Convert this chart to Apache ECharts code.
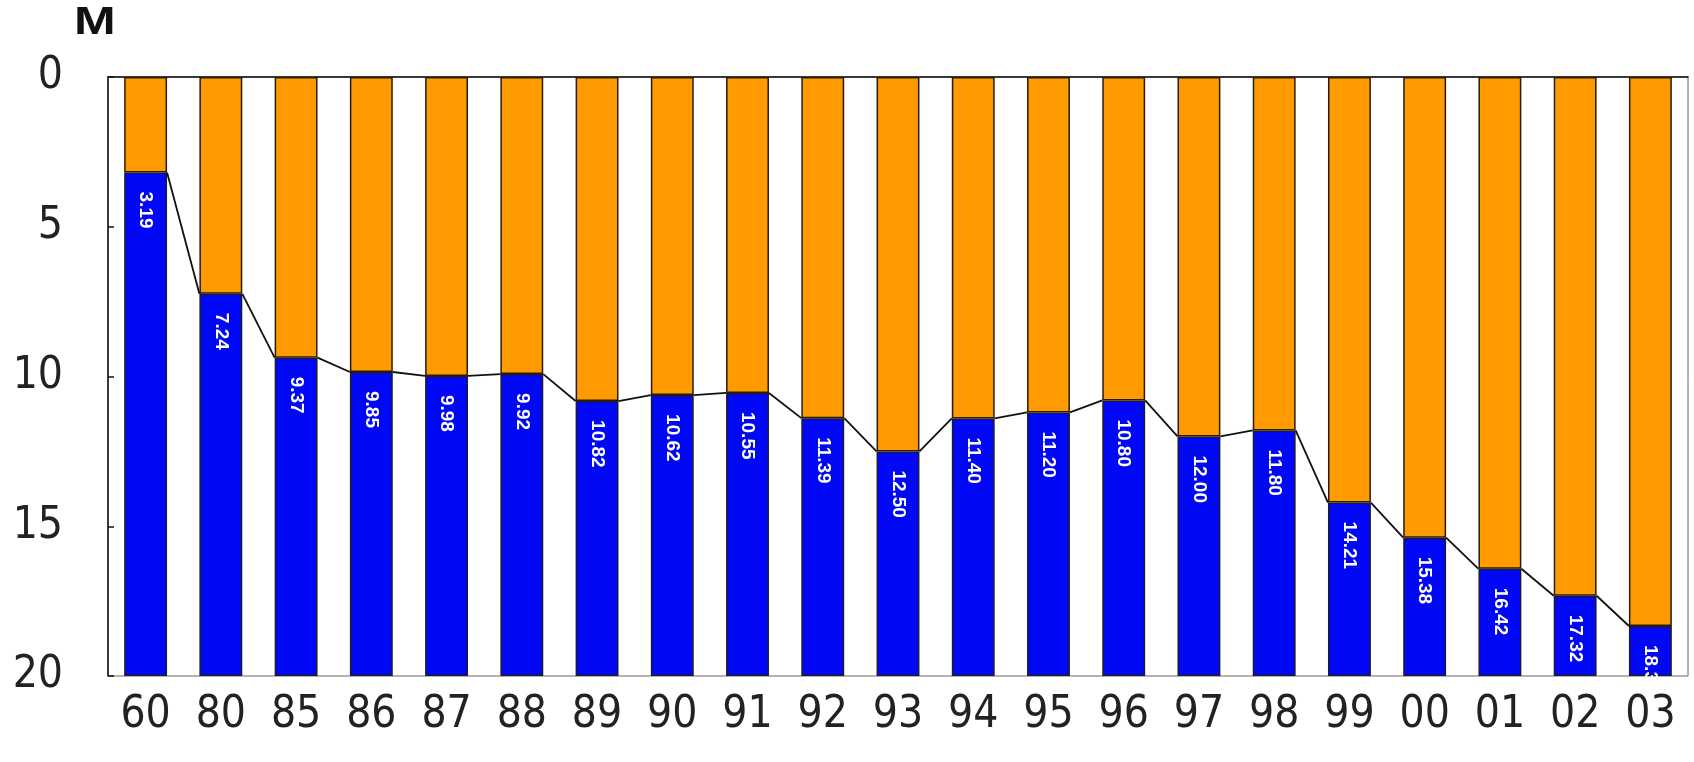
<!DOCTYPE html>
<html>
<head>
<meta charset="utf-8">
<script src="https://cdn.jsdelivr.net/npm/echarts@6/dist/echarts.min.js"></script>
<style>
  html, body { margin: 0; padding: 0; background: #fff; }
  #chart { width: 1694px; height: 762px; }
</style>
</head>
<body>
<div id="chart"></div>
<script>
// Years along the bottom axis
const years = ['60','80','85','86','87','88','89','90','91','92','93','94','95','96','97','98','99','00','01','02','03'];
// Depth of the boundary (M) for each year, printed inside the blue bars
const depths = [3.19, 7.24, 9.37, 9.85, 9.98, 9.92, 10.82, 10.62, 10.55, 11.39, 12.50, 11.40, 11.20, 10.80, 12.00, 11.80, 14.21, 15.38, 16.42, 17.32, 18.33];
// Full scale of the depth axis and its tick step
const axisMax = 20;
const axisStep = 5;

const remainder = depths.map(v => +(axisMax - v).toFixed(2));
const BAR_RATIO = 0.57;
const FONT = "'Liberation Sans Narrow', 'DejaVu Sans Condensed', 'Liberation Sans', sans-serif";

// Segments joining the top of the blue part of neighbouring bars
const linkData = depths.slice(0, -1).map((v, i) => [i, v, i + 1, depths[i + 1]]);

const chart = echarts.init(document.getElementById('chart'), null, { renderer: 'canvas' });
chart.setOption({
  animation: false,
  backgroundColor: '#ffffff',
  graphic: [{
    type: 'text',
    x: 74,
    y: 4,
    scaleY: 0.78,
    style: {
      text: 'M',
      font: "bold 50px 'Liberation Sans', Arial, sans-serif",
      fill: '#111'
    }
  }],
  grid: {
    left: 108, right: 6, top: 77, bottom: 86,
    show: true, borderColor: '#666', borderWidth: 1, backgroundColor: 'transparent'
  },
  xAxis: {
    type: 'category',
    data: years,
    boundaryGap: true,
    axisLine: { lineStyle: { color: '#111', width: 1.5 } },
    axisTick: { inside: true, length: 6, lineStyle: { color: '#111', width: 1.5 } },
    axisLabel: { fontFamily: FONT, fontSize: 44, color: '#222', margin: 18 },
    splitLine: { show: false }
  },
  yAxis: {
    type: 'value',
    inverse: true,
    min: 0,
    max: axisMax,
    interval: axisStep,
    axisLine: { show: true, lineStyle: { color: '#111', width: 1.5 } },
    axisTick: { show: true, inside: true, length: 6, lineStyle: { color: '#111', width: 1.5 } },
    axisLabel: { fontFamily: FONT, fontSize: 44, color: '#222', margin: 45 },
    splitLine: { show: false }
  },
  series: [
    {
      type: 'bar',
      stack: 'depth',
      data: depths,
      barWidth: (BAR_RATIO * 100) + '%',
      itemStyle: { color: '#FF9A00', borderColor: '#2a1a08', borderWidth: 1.5 }
    },
    {
      type: 'bar',
      stack: 'depth',
      data: remainder,
      barWidth: (BAR_RATIO * 100) + '%',
      itemStyle: { color: '#0008F5', borderColor: '#1a1a30', borderWidth: 1.5 },
      label: {
        show: true,
        position: 'insideTop',
        distance: 19,
        rotate: -90,
        align: 'left',
        verticalAlign: 'middle',
        color: '#ffffff',
        fontFamily: "'Liberation Sans', Arial, sans-serif",
        fontWeight: 'bold',
        fontSize: 19,
        formatter: p => depths[p.dataIndex].toFixed(2)
      }
    },
    {
      type: 'custom',
      data: linkData,
      encode: { x: 0, y: 1 },
      z: 5,
      silent: true,
      renderItem: (params, api) => {
        const a = api.coord([api.value(0), api.value(1)]);
        const b = api.coord([api.value(2), api.value(3)]);
        const half = api.size([1, 0])[0] * BAR_RATIO / 2;
        return {
          type: 'line',
          shape: { x1: a[0] + half, y1: a[1], x2: b[0] - half, y2: b[1] },
          style: { stroke: '#111', lineWidth: 1.8 }
        };
      }
    }
  ]
});
</script>
</body>
</html>
